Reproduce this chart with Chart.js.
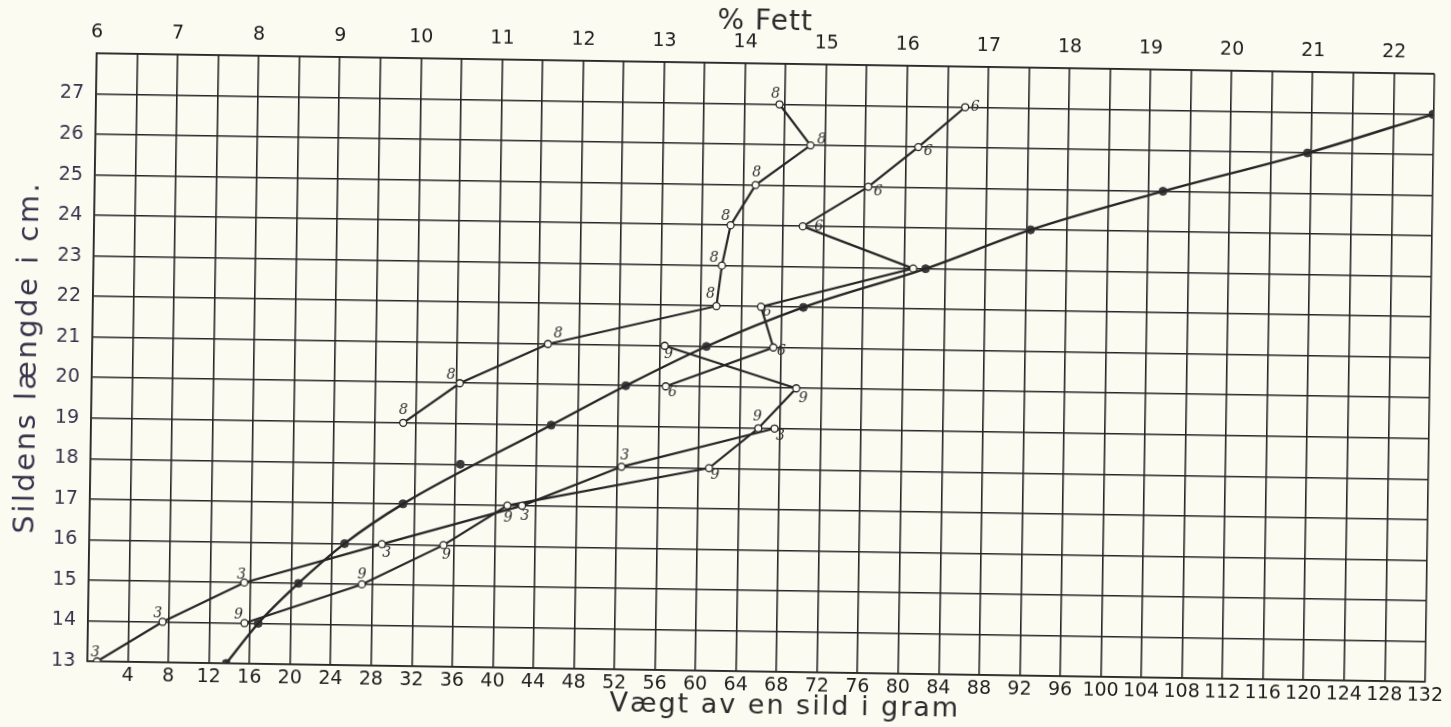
<!DOCTYPE html>
<html>
<head>
<meta charset="utf-8">
<script src="https://cdn.jsdelivr.net/npm/chart.js@4.4.1/dist/chart.umd.min.js"></script>
<style>
  html, body { margin: 0; padding: 0; background: #fbfbf2; overflow: hidden; }
  #wrap { width: 1451px; height: 727px; transform: rotate(0.88deg); transform-origin: 50% 50%; }
</style>
</head>
<body>
<div id="wrap"><canvas id="myChart" width="1451" height="727"></canvas></div>
<script>
// Vægt (filled dots) - length in cm vs gram
const weightCm = [13, 14, 15, 16, 17, 18, 19, 20, 21, 22, 23, 24, 25, 26, 27];
const weightGram = [13.7, 16.8, 20.7, 25.2, 30.9, 36.5, 45.4, 52.7, 60.6, 70.1, 82.1, 92.4, 105.4, 119.6, 131.9];
// the 18 cm dot lies off the drawn curve
const weightOnCurve = [1, 1, 1, 1, 1, 0, 1, 1, 1, 1, 1, 1, 1, 1, 1];

// % Fett curves, labelled by month
const fatCm3 = [13, 14, 15, 16, 17, 18, 19];
const fat3 = [6.12, 6.92, 7.92, 9.61, 11.33, 12.55, 14.43];
const fatCm9 = [14, 15, 16, 17, 18, 19, 20, 21];
const fat9 = [7.93, 9.37, 10.37, 11.15, 13.63, 14.23, 14.69, 13.06];
const fatCm8 = [19, 20, 21, 22, 23, 24, 25, 26, 27];
const fat8 = [9.85, 10.54, 11.62, 13.69, 13.75, 13.85, 14.15, 14.82, 14.43];
const fatCm6 = [20, 21, 22, 23, 24, 25, 26, 27];
const fat6 = [13.08, 14.40, 14.24, 16.11, 14.74, 15.54, 16.15, 16.72];

// axis ticks
const gramTicks = [4, 8, 12, 16, 20, 24, 28, 32, 36, 40, 44, 48, 52, 56, 60, 64, 68, 72, 76, 80, 84, 88, 92, 96, 100, 104, 108, 112, 116, 120, 124, 128, 132];
const fettTicks = [6, 7, 8, 9, 10, 11, 12, 13, 14, 15, 16, 17, 18, 19, 20, 21, 22];
const cmTicks = [13, 14, 15, 16, 17, 18, 19, 20, 21, 22, 23, 24, 25, 26, 27];
const gramMax = 132, cmMax = 28;
const gramPerFett = 8; // 1 % fett = 2 squares = 8 gram

// where the hand written month number sits next to each point (px offsets)
const labelOffsets = {
    "3": [[-2, -9], [-5, -8], [-3, -8], [5, 9], [3, 10], [3, -11], [6, 8]],
    "9": [[-6, -8], [0, -10], [3, 10], [1, 12], [6, 7], [-1, -11], [7, 10], [4, 9]],
    "8": [[0, -12], [-9, -8], [10, -10], [-6, -12], [-8, -7], [-5, -9], [1, -12], [11, -6], [-4, -10]],
    "6": [[7, 6], [8, 4], [6, 5], null, [16, 0], [10, 5], [10, 4], [10, 0]]
};

const ink = '#262626';
const paper = '#fbfbf2';

const toPoints = (xs, ys) => xs.map((x, i) => ({ x: x, y: ys[i] }));

function fatDataset(month, cm, fat) {
    return {
        label: month,
        data: toPoints(fat, cm),
        xAxisID: 'x2',
        borderColor: ink,
        borderWidth: 2.2,
        tension: 0,
        pointRadius: 3.5,
        pointBorderWidth: 1.3,
        pointBackgroundColor: paper,
        pointBorderColor: ink
    };
}

const curveGram = weightGram.filter((g, i) => weightOnCurve[i]);
const curveCm = weightCm.filter((c, i) => weightOnCurve[i]);

const monthLabels = {
    id: 'monthLabels',
    afterDatasetsDraw(chart) {
        const ctx = chart.ctx;
        ctx.save();
        ctx.fillStyle = '#2e2e2e';
        ctx.font = 'italic 14px "DejaVu Serif"';
        ctx.textAlign = 'center';
        ctx.textBaseline = 'middle';
        chart.data.datasets.forEach((ds, di) => {
            const offs = labelOffsets[ds.label];
            if (!offs) return;
            chart.getDatasetMeta(di).data.forEach((pt, i) => {
                if (!offs[i]) return;
                ctx.fillText(ds.label, pt.x + offs[i][0], pt.y + offs[i][1]);
            });
        });

        // axis titles
        ctx.fillStyle = '#2a2a2a';
        ctx.font = '28px "DejaVu Sans"';
        ctx.letterSpacing = '1px';
        ctx.fillText('% Fett', 760, 22);
        ctx.letterSpacing = '2px';
        ctx.font = '27px "DejaVu Sans"';
        ctx.fillText('Vægt av en sild i gram', 790, 706);
        ctx.translate(28, 368);
        ctx.rotate(-Math.PI / 2);
        ctx.fillStyle = '#36334a';
        ctx.font = '29px "DejaVu Sans"';
        ctx.letterSpacing = '2.5px';
        ctx.fillText('Sildens længde i cm.', 0, 0);
        ctx.restore();
    }
};

const tickFont = { family: '"DejaVu Sans"', size: 19 };
const setTicks = values => s => { s.ticks = values.map(v => ({ value: v })); };

const ctx = document.getElementById('myChart').getContext('2d');
new Chart(ctx, {
    type: 'line',
    data: {
        datasets: [
            {
                label: 'vægt-kurve',
                data: toPoints(curveGram, curveCm),
                borderColor: ink,
                borderWidth: 2.4,
                cubicInterpolationMode: 'monotone',
                pointRadius: 0
            },
            {
                label: 'vægt',
                data: toPoints(weightGram, weightCm),
                showLine: false,
                pointRadius: 4,
                pointBackgroundColor: '#3a3a3a',
                pointBorderColor: '#3a3a3a'
            },
            fatDataset('3', fatCm3, fat3),
            fatDataset('9', fatCm9, fat9),
            fatDataset('8', fatCm8, fat8),
            fatDataset('6', fatCm6, fat6)
        ]
    },
    options: {
        responsive: false,
        animation: false,
        devicePixelRatio: 1,
        layout: { padding: { left: 0, right: 19, top: 0, bottom: 0 } },
        plugins: {
            legend: { display: false },
            tooltip: { enabled: false }
        },
        scales: {
            x: {
                type: 'linear',
                position: 'bottom',
                min: 0,
                max: gramMax,
                afterBuildTicks: setTicks([0].concat(gramTicks)),
                afterFit: s => { s.height = 56; },
                border: { color: ink, width: 1.7 },
                grid: { color: ink, lineWidth: 1.6, drawTicks: false },
                ticks: {
                    autoSkip: false,
                    maxRotation: 0,
                    padding: 3,
                    color: '#1e1e1e',
                    font: tickFont,
                    callback: v => (gramTicks.includes(v) ? v : '')
                }
            },
            x2: {
                type: 'linear',
                position: 'top',
                min: fettTicks[0],
                max: fettTicks[0] + gramMax / gramPerFett,
                afterBuildTicks: setTicks(fettTicks),
                afterFit: s => { s.height = 63; },
                border: { color: ink, width: 1.7 },
                grid: { display: false, drawOnChartArea: false },
                ticks: {
                    autoSkip: false,
                    maxRotation: 0,
                    padding: 2,
                    color: '#1e1e1e',
                    font: tickFont,
                    callback: v => v
                }
            },
            y: {
                type: 'linear',
                min: cmTicks[0],
                max: cmMax,
                afterBuildTicks: setTicks(cmTicks.concat([cmMax])),
                afterFit: s => { s.width = 92; },
                border: { color: ink, width: 1.7 },
                grid: { color: ink, lineWidth: 1.6, drawTicks: false },
                ticks: {
                    autoSkip: false,
                    padding: 12,
                    color: '#36334a',
                    font: tickFont,
                    callback: v => (cmTicks.includes(v) ? v : '')
                }
            }
        }
    },
    plugins: [monthLabels]
});
</script>
</body>
</html>
